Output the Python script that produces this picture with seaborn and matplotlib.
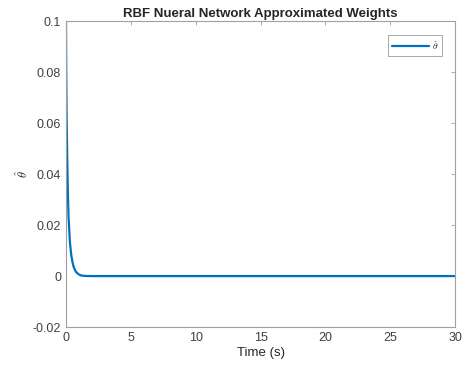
import pandas as pd
import matplotlib
matplotlib.use('Agg')
import matplotlib.pyplot as plt
import seaborn as sns

# values
TIME = [0, 0.02, 0.05, 0.1, 0.15, 0.2, 0.3, 0.4, 0.5, 0.6, 0.7, 0.8, 1.0, 1.2, 1.5, 2, 5, 10, 20, 30]
THETA = [0.1, 0.08, 0.062, 0.045, 0.032, 0.023, 0.0135, 0.0085, 0.0055, 0.0035, 0.0023,
         0.0015, 0.0006, 0.0002, 0.00005, 0, 0, 0, 0, 0]
XTICKS = [0, 5, 10, 15, 20, 25, 30]
YTICKS = [-0.02, 0, 0.02, 0.04, 0.06, 0.08, 0.1]
YTICKLABELS = ['-0.02', '0', '0.02', '0.04', '0.06', '0.08', '0.1']

df = pd.DataFrame({'Time': TIME, 'theta': THETA})

sns.set_style('white')
plt.rcParams['font.family'] = ['Liberation Sans', 'DejaVu Sans']
plt.rcParams['mathtext.fontset'] = 'cm'

gris = '#404040'
fig = plt.figure(figsize=(4.63, 3.70), dpi=100)
ax = fig.add_axes([0.1425, 0.116, 0.8405, 0.827])

sns.lineplot(data=df, x='Time', y='theta', color='#0072BD', linewidth=1.6,
             label=r'$\hat{\theta}$', ax=ax)

ax.set_xlim(0, 30)
ax.set_ylim(-0.02, 0.1)
ax.set_xticks(XTICKS)
ax.set_xticklabels([str(t) for t in XTICKS])
ax.set_yticks(YTICKS)
ax.set_yticklabels(YTICKLABELS)
ax.tick_params(direction='in', length=3, width=0.6, colors=gris, labelsize=9,
               top=True, right=True, labeltop=False, labelright=False)
ax.tick_params(axis='both', which='major', color='#a0a0a0')
for s in ax.spines.values():
    s.set_color('#a0a0a0')
    s.set_linewidth(0.8)

ax.set_xlabel('Time (s)', fontsize=9.5, color='#262626', labelpad=2)
ax.set_ylabel(r'$\hat{\theta}$', fontsize=9, color='#262626', labelpad=1)
ax.set_title('RBF Nueral Network Approximated Weights', fontsize=9.5,
             fontweight='bold', pad=3)

leg = ax.legend(loc='upper right', fontsize=7, frameon=True, fancybox=False,
                handlelength=3.8, borderpad=0.4, handletextpad=0.3,
                bbox_to_anchor=(0.98, 0.97))
leg.get_frame().set_edgecolor('#808080')
leg.get_frame().set_linewidth(0.6)

fig.savefig('out.png', dpi=100)
plt.close()
